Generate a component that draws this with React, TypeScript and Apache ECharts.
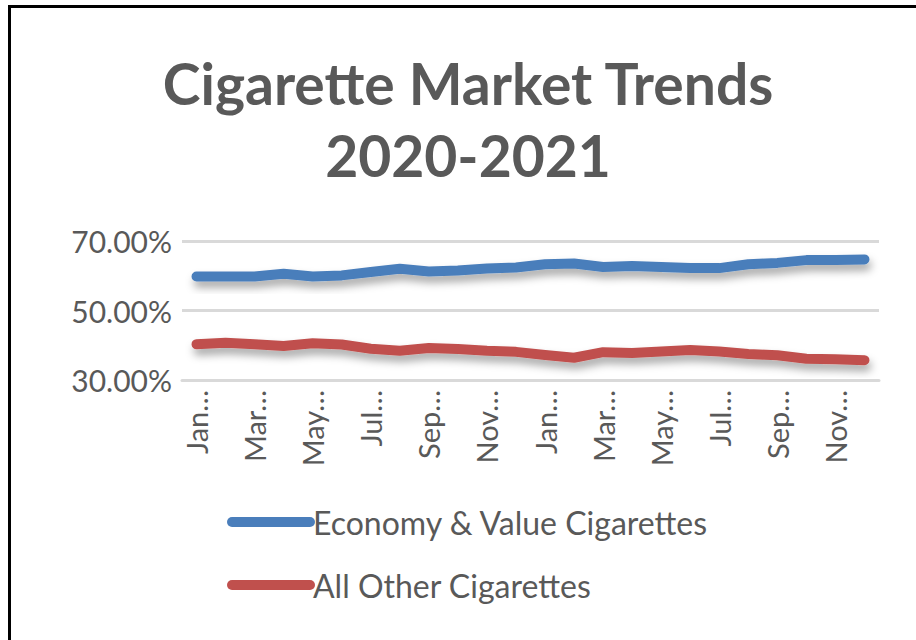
import React, { useEffect, useRef } from "react";
import * as echarts from "echarts";

const categories = [
  "Jan 2020", "Feb 2020", "Mar 2020", "Apr 2020", "May 2020", "Jun 2020",
  "Jul 2020", "Aug 2020", "Sep 2020", "Oct 2020", "Nov 2020", "Dec 2020",
  "Jan 2021", "Feb 2021", "Mar 2021", "Apr 2021", "May 2021", "Jun 2021",
  "Jul 2021", "Aug 2021", "Sep 2021", "Oct 2021", "Nov 2021", "Dec 2021",
];
const economyValue = [
  59.8, 59.8, 59.8, 60.6, 59.8, 60.1, 61.1, 62.0, 61.2, 61.5, 62.1, 62.4,
  63.3, 63.5, 62.5, 62.8, 62.5, 62.2, 62.2, 63.3, 63.7, 64.5, 64.5, 64.7,
];
const allOther = [
  40.3, 40.7, 40.3, 39.8, 40.6, 40.2, 39.0, 38.4, 39.2, 38.9, 38.4, 38.1,
  37.2, 36.4, 38.0, 37.8, 38.2, 38.6, 38.2, 37.5, 37.1, 36.1, 36.0, 35.7,
];
const seriesNames = ["Economy & Value Cigarettes", "All Other Cigarettes"];
const titleLines = ["Cigarette Market Trends", "2020-2021"];

export default function App() {
  const ref = useRef<HTMLDivElement>(null);
  useEffect(() => {
    document.body.style.margin = "0";
    const chart = echarts.init(ref.current!, null, { renderer: "svg" });
    const font = "Lato, 'Open Sans', sans-serif";
    const shadow = {
      shadowColor: "rgba(0,0,0,0.35)",
      shadowBlur: 8,
      shadowOffsetX: 2,
      shadowOffsetY: 6,
    };
    const capsule = "path://M5,0H83A5,5,0,0,1,83,10H5A5,5,0,0,1,5,0Z";
    chart.setOption({
      animation: false,
      backgroundColor: "#ffffff",
      title: {
        text: titleLines.join("\n"),
        left: 463,
        top: 42,
        textAlign: "center",
        textStyle: {
          fontFamily: font,
          fontWeight: "bold",
          fontSize: 57,
          lineHeight: 72,
          color: "#595959",
        },
      },
      graphic: [
        { type: "line", shape: { x1: 8, y1: 6.5, x2: 916, y2: 6.5 }, style: { stroke: "#000", lineWidth: 3 } },
        { type: "line", shape: { x1: 9.5, y1: 5, x2: 9.5, y2: 640 }, style: { stroke: "#000", lineWidth: 3 } },
      ],
      grid: { left: 182, right: 37, top: 241, bottom: 260, containLabel: false },
      xAxis: {
        type: "category",
        data: categories,
        boundaryGap: true,
        axisLine: { show: true, lineStyle: { color: "#d9d9d9", width: 3 } },
        axisTick: { show: false },
        axisLabel: {
          interval: 1,
          rotate: 90,
          margin: 10,
          fontFamily: font,
          fontSize: 29,
          color: "#595959",
          formatter: (v: string) => v.slice(0, 3) + "\u2026",
        },
      },
      yAxis: {
        type: "value",
        min: 30,
        max: 70,
        interval: 20,
        axisLine: { show: false },
        axisTick: { show: false },
        splitLine: { lineStyle: { color: "#d9d9d9", width: 3 } },
        axisLabel: {
          margin: 10,
          fontFamily: font,
          fontSize: 30,
          color: "#595959",
          formatter: (v: number) => v.toFixed(2) + "%",
        },
      },
      legend: {
        orient: "vertical",
        left: 222,
        top: 501,
        icon: capsule,
        itemWidth: 88,
        itemHeight: 10,
        itemGap: 31,
        textStyle: { fontFamily: font, fontSize: 32, color: "#595959", padding: [0, 0, 0, -7] },
        data: seriesNames,
      },
      series: [
        {
          name: seriesNames[0],
          type: "line",
          data: economyValue,
          symbol: "none",
          lineStyle: { color: "#4a7ebb", width: 10, cap: "round", join: "round", ...shadow },
          itemStyle: { color: "#4a7ebb" },
        },
        {
          name: seriesNames[1],
          type: "line",
          data: allOther,
          symbol: "none",
          lineStyle: { color: "#c0504d", width: 10, cap: "round", join: "round", ...shadow },
          itemStyle: { color: "#c0504d" },
        },
      ],
    });
    return () => chart.dispose();
  }, []);
  return <div ref={ref} style={{ width: 916, height: 640 }} />;
}
